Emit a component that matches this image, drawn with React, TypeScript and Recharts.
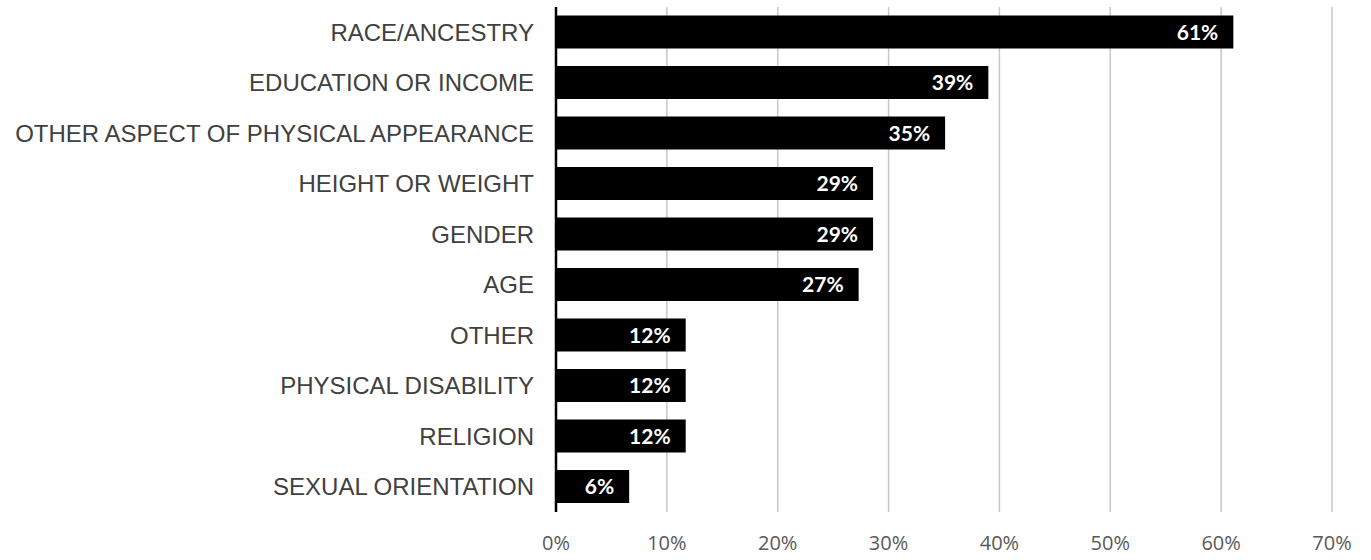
import React from "react";
import { BarChart, Bar, XAxis, YAxis, CartesianGrid, LabelList } from "recharts";

const categories = [
  "RACE/ANCESTRY",
  "EDUCATION OR INCOME",
  "OTHER ASPECT OF PHYSICAL APPEARANCE",
  "HEIGHT OR WEIGHT",
  "GENDER",
  "AGE",
  "OTHER",
  "PHYSICAL DISABILITY",
  "RELIGION",
  "SEXUAL ORIENTATION",
];

const values = [61.1, 39.0, 35.1, 28.6, 28.6, 27.3, 11.7, 11.7, 11.7, 6.6];
const valueLabels = ["61%", "39%", "35%", "29%", "29%", "27%", "12%", "12%", "12%", "6%"];
const xTicks = [0, 10, 20, 30, 40, 50, 60, 70];

const data = categories.map((name, i) => ({ name, value: values[i], label: valueLabels[i] }));

export default function App() {
  return (
    <div style={{ position: "absolute", left: 0, top: 0, background: "#fff" }}>
      <BarChart
        width={1371}
        height={560}
        data={data}
        layout="vertical"
        margin={{ top: 7, right: 39, bottom: 18, left: 0 }}
        barCategoryGap="17%"
      >
        <CartesianGrid horizontal={false} stroke="#c8c8c8" strokeWidth={1.5} />
        <XAxis
          type="number"
          domain={[0, 70]}
          ticks={xTicks}
          tickFormatter={(v) => `${v}%`}
          axisLine={false}
          tickLine={false}
          tickSize={0}
          tickMargin={24}
          height={30}
          tick={{ fill: "#595959", fontSize: 20, fontFamily: "'Open Sans', sans-serif" }}
        />
        <YAxis
          type="category"
          dataKey="name"
          width={556}
          axisLine={{ stroke: "#000", strokeWidth: 2.5 }}
          tickLine={false}
          tickSize={0}
          tickMargin={22}
          interval={0}
          tick={{ fill: "#404040", fontSize: 24, fontFamily: "'Liberation Sans', Arial, sans-serif" }}
        />
        <Bar dataKey="value" fill="#000" isAnimationActive={false}>
          <LabelList
            dataKey="label"
            position="insideRight"
            offset={15}
            fill="#fff"
            fontSize={21}
            fontWeight="bold"
            fontFamily="Lato, sans-serif"
          />
        </Bar>
      </BarChart>
    </div>
  );
}
